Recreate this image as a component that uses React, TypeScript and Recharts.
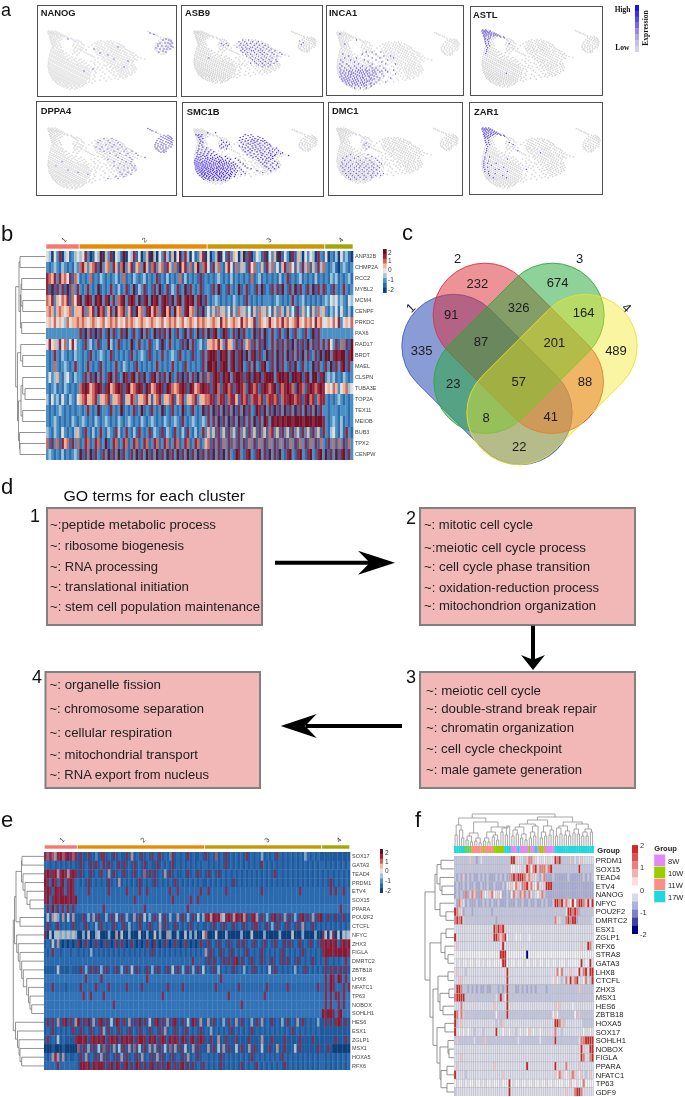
import React from 'react';
import { ScatterChart, Scatter, XAxis, YAxis, ReferenceLine, ReferenceArea, BarChart, Bar } from 'recharts';

// ---------- panel a: UMAP embedding, rows of [y, xs] ----------
const umapBase: [number, number[]][] = [
  [0,[1,4,7]],[1,[0,2.5,5,9]],[2,[2,3.5,6,8,11]],[3,[0.5,4,7,10,13]],[4,[2,5,8.5,12,15]],[5,[3,6.5,10,14,17]],[6,[1.5,4.5,9,12.5,16,19]],[7,[3,7,11,20,23]],[8,[2.5,5.5,9,14,24]],[9,[4,7.5,12,26,29]],
  [10,[3,6,10,27,31,53,59,63]],[11,[5,8,28,33,50,56,61,66]],[12,[3.5,7,11,30,47,52,58,64,69]],[13,[5,9,26,34,49,54,60,65,71]],[14,[4,7,12,29,36,44,51,57,62,67,73]],[15,[6,10,25,31,48,53,59,64,69,75]],
  [16,[5,8,13,28,33,41,50,55,61,66,72,76]],[17,[4,9,27,35,46,52,57,63,68,74]],[18,[6,11,30,32,49,54,60,65,70,77]],[19,[3,8,13,26,34,38,47,51,56,62,67,72,79]],[20,[5,10,15,29,33,50,55,59,64,69,75,81]],
  [21,[3,7,12,27,36,48,53,58,63,66,71,77,83]],[22,[5,9,14,18,31,38,52,56,61,68,73,79,85]],[23,[2,7,11,16,25,40,49,54,59,65,70,76,82]],[24,[4,9,13,21,29,42,51,57,62,67,72,78,84,88]],[25,[2,6,11,15,19,44,53,58,64,69,74,80,86]],
  [26,[4,8,13,17,24,46,55,60,66,71,76,82,90]],[27,[1,6,10,15,22,28,50,56,62,68,73,79,85,93]],[28,[3,8,12,17,20,26,33,54,59,64,70,75,81,87,97]],[29,[1,5,10,14,19,24,31,47,57,61,66,72,77,83,89]],[30,[3,7,12,16,21,27,36,43,56,63,68,74,79,85]],
  [31,[0.5,5,9,14,18,23,29,34,50,59,65,70,76,81]],[32,[2,7,11,16,20,25,32,38,46,62,67,73,78,84]],[33,[0.5,4,9,13,18,22,27,30,36,52,60,64,70,75,80]],[34,[2,6,11,15,20,24,29,33,41,47,56,66,72,77,83,86]],[35,[0,4,8,13,17,22,26,31,35,39,58,63,69,74,79,84]],
  [36,[2,6,10,15,19,24,28,33,37,43,50,62,67,71,76,81,87]],[37,[0.5,4,8,12,17,21,26,30,35,39,46,54,65,70,74,79,85]],[38,[2,6,10,14,19,23,28,32,37,41,49,59,68,73,77,83,88]],[39,[1,4,8,12,16,21,25,30,34,39,44,52,64,71,75,80,86]],[40,[3,6,10,14,18,23,27,32,36,41,47,61,69,73,78,84]],
  [41,[1,5,8,12,16,20,25,29,34,38,43,55,66,71,76,81,87]],[42,[3,7,10,14,18,22,27,31,36,40,48,63,73,79,84]],[43,[2,5,9,12,16,20,24,29,33,38,42,57,70,75,81]],[44,[4,7,11,14,18,22,26,31,35,40,46,65,72,77,83]],[45,[3,6,9,13,16,20,24,28,33,37,42,53,68,74,79]],
  [46,[5,8,11,15,18,22,26,30,35,39,47,61,72,78]],[47,[4,7,10,13,17,20,24,28,32,37,41,56,67,75]],[48,[6,9,12,15,19,22,26,30,34,39,45,63,70]],[49,[5,8,11,14,17,21,24,28,32,36,42,52]],[50,[7,10,13,16,19,23,26,30,34,38,47,58]],
  [51,[8,12,15,18,21,25,28,32,36,41]],[52,[9,12,16,20,23,27,30,34,38,44]],[53,[10,14,18,21,25,29,32,36]],[54,[12,16,19,23,27,31,35]],[55,[14,18,22,26,30,34]],[56,[16,20,24,28,32]],[57,[19,24,29]],[58,[22,27]],
  [0.5,[100]],[1.5,[102]],[2.5,[104]],[3,[105.5]],[4,[108]],[5,[110]],[6,[112.5]],
  [7,[116,120]],[8,[113,118,122]],[9,[115,120,123]],[10,[111,117,121,124]],[11,[113,119,123]],[12,[109,115,121,125]],[13,[112,118,123]],[14,[108,114,120,124]],[15,[110,116,122]],[16,[107,113,118,124]],[17,[110,115,121]],[18,[107,112,118,123]],[19,[109,115,120]],[20,[108,113,118]],[21,[110,116]],[22,[111,115,118]],[23,[113,116]],
];
const hiNANOG: [number, number[]][] = [[2,[102]],[3.5,[106]],[8,[118,20]],[9,[115,121]],[10,[123]],[12,[112,117,120,124]],[13,[122,110]],[15,[110,114,118,123]],[16,[120,125,70]],[17,[108]],[18,[46,112,116,119,122]],[20,[115]],[21,[111,118]],[22,[52]],[24,[60]],[28,[66]],[30,[80]],[36,[76]],[38,[45]],[40,[36]]];
const hiASB9: [number, number[]][] = [[10,[50,56]],[11,[108]],[12,[46,52,60,66]],[13,[112]],[14,[28,33,48,54,58,64,70]],[15,[110]],[16,[30,35,47,51,55,62,67,73]],[18,[44,49,53,58,60,65,71,76]],[20,[50,54,57,63,68,74,79]],[22,[48,52,59,61,66,70,77,83]],[24,[50,55,62,68,72,80,88]],[26,[53,58,64,70,75,82,90]],[28,[54,60,66,72,78,85]],[30,[15,58,63,69,74,80]],[32,[60,66,71,77,84]],[34,[62,68,73,79,85]],[36,[58,64,70,76,82]],[38,[66,72,78]],[40,[70,76]]];
const hiINCA1: [number, number[]][] = [[2,[3]],[8,[20]],[12,[8]],[20,[30,36,45]],[22,[6,26,40]],[24,[12,32,48,55]],[26,[8,20,36,44,58]],[28,[4,14,28,40,52]],[30,[6,18,32,46]],[32,[3,10,22,36,50,60]],[34,[5,12,18,26,34,44]],[36,[3,8,14,20,24,30,36,40,48]],[38,[4,10,16,22,26,29,33,38,42,50,58]],[39,[7,13,19,24,31,36,46]],[40,[3,12,15,21,27,30,39,44,52]],[41,[6,9,17,23,25,33,37]],[42,[4,12,15,19,28,31,40,46,60]],[43,[8,14,21,26,34,36]],[44,[5,11,17,23,29,32,38,48]],[45,[3,9,14,20,26,33,41]],[46,[7,12,18,24,27,35,44,55]],[47,[5,10,16,21,30,34,38]],[48,[8,13,19,25,28,36,43]],[49,[6,11,17,22,31,33]],[50,[9,15,20,26,30,40,50]],[51,[12,18,24,28,35]],[52,[10,16,21,27,34,38]],[53,[13,19,25,30]],[54,[15,22,28,35]],[56,[18,24,30]]];
const hiASTL: [number, number[]][] = [[0,[1,4]],[1,[0,2.5,5,9]],[2,[2,3.5,6,8]],[3,[0.5,4,7,10,13]],[4,[2,5,8.5,12,15]],[5,[3,6.5,10,14,17]],[6,[1.5,4.5,9,12.5,16,19]],[7,[3,7,20,23]],[8,[2.5,9,24]],[9,[4,7.5]],[10,[3,6]],[12,[3.5,7]],[14,[4,7,29]],[16,[5,8]],[18,[6]],[20,[5]],[22,[5]],[24,[4]],[44,[26]]];
const hiDPPA4: [number, number[]][] = [[0.5,[100]],[1.5,[102]],[2.5,[104]],[4,[108]],[7,[116,120]],[8,[113,118,122]],[9,[115,120,123]],[10,[56,64,111,117,121,124]],[11,[113,119,123]],[12,[52,60,68,109,115,121,125]],[13,[112,118,123]],[14,[50,62,70,108,114,120,124]],[15,[110,116,122]],[16,[58,66,72,107,113,118,124]],[17,[110,115,121]],[18,[48,54,64,74,107,112,118,123]],[19,[109,115,120]],[20,[52,60,70,78,108,113,118]],[21,[110,116]],[22,[56,66,76,84,111,115,118]],[23,[113,116]],[24,[62,72,80,88]],[26,[68,78,90]],[28,[70,82,97]],[30,[60,74,84]],[32,[14,66,78,83]],[34,[72,82]],[36,[8,66,76,84,87]],[38,[70,80,86]],[40,[20,76,84,88]],[42,[30,72,80]],[44,[40,74,78,83]],[46,[68,76]],[48,[60,70]]];
const hiSMC1B: [number, number[]][] = [[4,[14,22]],[6,[2,5,8,52,58]],[7,[4,55]],[8,[7,50,60,65]],[9,[5,47,57,67]],[10,[9,53,62,70]],[11,[6,49,59,65]],[12,[28,46,55,61,68,72]],[13,[7,52,58,64,70]],[14,[9,30,33,48,62,74]],[15,[6,55,60,67,72]],[16,[28,36,50,57,65,77]],[17,[8,32,53,62,70,75]],[18,[5,26,34,46,59,67,78]],[19,[9,30,49,55,63,72]],[20,[13,28,52,60,68,76,84]],[21,[5,33,57,65,74,80]],[22,[8,12,17,50,62,70,82]],[23,[4,55,59,67,77,86]],[24,[11,15,20,52,64,72,80]],[25,[3,7,57,68,76,84,90]],[26,[10,14,18,61,70,78,88]],[27,[4,6,23,54,65,74,83]],[28,[9,13,17,21,58,69,78,82,96]],[29,[3,7,11,26,32,63,72,80]],[30,[5,14,19,24,28,60,68,76]],[31,[2,9,12,17,22,34,42,65,74,80]],[32,[4,7,14,19,25,29,37,70,78]],[33,[1,6,11,16,21,27,32,45,66,73]],[34,[3,9,13,18,23,26,30,36,76,82]],[35,[1,5,8,11,15,20,25,28,33,40,47,68,72]],[36,[3,7,13,17,22,26,31,35,38,74,80,85]],[37,[1,5,9,12,16,20,24,29,33,42,50,70]],[38,[3,7,10,14,18,22,27,31,36,40,78,84]],[39,[2,5,9,12,16,20,25,29,34,38,44,52,72]],[40,[4,8,11,14,18,23,26,30,35,41,74,80,86]],[41,[2,6,10,13,17,21,24,28,32,37,46,54]],[42,[4,8,12,15,19,23,27,30,34,39,42,58,76,82]],[43,[2,6,9,13,17,20,25,29,33,37,48]],[44,[5,8,11,15,19,23,26,31,35,41,44,64,78]],[45,[3,7,10,14,17,21,24,28,32,38,50]],[46,[6,9,12,16,20,23,27,30,34,39,43,70]],[47,[4,8,11,14,18,22,26,29,33,37,52]],[48,[8,11,15,19,23,26,30,35,38,42,48]],[49,[6,10,13,17,21,24,28,32,36]],[50,[9,13,16,20,25,28,31,37,41]],[51,[8,11,15,19,22,26,30,34]],[52,[12,15,18,23,27,33,36]],[53,[10,14,20,25,30]],[54,[16,20,24,28,32]]];
const hiDMC1: [number, number[]][] = [[16,[30]],[18,[28]],[20,[33]],[22,[30]],[28,[14,32]],[30,[10,22,36]],[32,[6,18,30,40]],[34,[8,14,24,34,42]],[36,[5,12,20,28,36,44]],[38,[6,10,16,22,26,32,38,46]],[40,[4,9,14,20,24,30,36,42]],[42,[6,12,18,23,28,33,38,44]],[44,[8,14,20,26,31,36,41]],[46,[6,12,17,23,28,33,38,44]],[48,[9,14,20,26,32,37,42,48]],[50,[10,16,22,28,35,40,45]],[52,[12,18,24,30,36]],[54,[14,20,28]]];
const hiZAR1: [number, number[]][] = [[0,[1,4,7]],[1,[0,2.5,5,9]],[2,[2,3.5,6,8,11]],[3,[0.5,4,7,10,13]],[4,[2,5,8.5,12,15]],[5,[3,6.5,10,14,17]],[6,[1.5,4.5,9,12.5,16,19]],[7,[3,7,11,20,23]],[8,[2.5,5.5,9,24]],[9,[4,7.5]],[10,[3,6]],[12,[3.5,7]],[14,[4,7,29]],[16,[5,8,33]],[18,[6]],[20,[5]],[22,[5,38]],[24,[4,62]],[28,[3,8]],[30,[3,27]],[32,[2,7]],[34,[2,6,15]],[36,[2,10]],[38,[2,6,23]],[40,[3,14,18,47]],[42,[3,7,27]],[44,[7,14]],[46,[8,22]],[48,[12,26]]];

const umapGenes = ['NANOG','ASB9','INCA1','ASTL','DPPA4','SMC1B','DMC1','ZAR1'];
const umapHigh = [hiNANOG,hiASB9,hiINCA1,hiASTL,hiDPPA4,hiSMC1B,hiDMC1,hiZAR1];
const umapBoxes = [[37,5,140,92],[181,5,142,92],[326,5,138,91],[470,6,133,90],[36,101,141,95],[182,102,142,95],[328,102,135,94],[469,102,134,93]];
const umapExtents = [[48,31,125,58],[194,31,122,52],[337,32,122,58],[482,30,117,57],[48,128,125,61],[194,129,123,55],[337,128,121,55],[482,128,118,60]];
const umapColors = ['#6f58e6','#7a66ea','#6a50ea','#7058e8','#8574ec','#4f30f2','#7a66ea','#6a50ea'];
const expressionStops = ['#1a10f0','#3a2cf0','#5a48ee','#7a66ea','#9a88e6','#b5a8e2','#c8c2de','#d4d2dc'];

// ---------- panels b, e: heatmap rows (cluster 1 | 2 | 3 | 4, digits are colour levels) ----------
const clusterSizes = [13, 50, 46, 11];
const clusterColors = ['#f8766d', '#e88a00', '#c99800', '#a3a500'];
const genesB = ['ANP32B','CHMP2A','RCC2','MYBL2','MCM4','CENPF','PRKDC','PAX6','RAD17','BRDT','MAEL','CLSPN','TUBA3E','TOP2A','TEX11','MEIOB','BUB3','TPX2','CENPW'];
const heatB = [
 '4304270341234 3472014380 5270431804 3714025083 0427315048 2730412570 4023804172 5403817024 3170425081 4207153042 430721 40213042310',
 '2123213212132 6752567182 5627516825 7156285167 2561752618 5726158267 4173621574 1625317462 2517362415 7264152736 152736 21231023212',
 '7657275647163 1212612132 1212312612 1321231212 7121312126 1312121712 1212321213 1212121612 3121212131 2712123121 213121 21323121231',
 '7181727181627 2127212812 1272131271 2813271217 2812713271 2817212712 2172812172 1281271217 2812172718 2172817217 281727 12172127212',
 '6572546571647 8278728782 7827267827 8728178287 8278718278 2787827817 2123212121 3212172121 2122212321 2127212312 121212 32434232143',
 '5652565456255 5726572867 2572856725 7185627857 6278572856 2785627182 4252635241 5263524152 6352415263 1524172524 152635 21324142131',
 '4546454364556 5654565456 4565645465 6545654565 4564565645 6456546565 4565475645 6547564572 6545754657 5645675465 647564 45464724546',
 '2222222222222 7182718172 1827127182 1721827128 1717282172 1827128172 8178218712 7181721281 7281272172 1821722172 181722 22222222222',
 '4745374624742 2172312712 2831271212 8127212712 3181272121 7182712312 5565752755 2717256172 7181272717 2718271718 271727 27427162718',
 '2127213212132 2121721232 1271212121 7212321712 1272123217 2121712172 7887187827 8178182781 7128172817 2817271827 127181 88278788178',
 '2126212321272 2127212172 1212721321 2172121212 7212127212 1721212172 8878178827 8178217282 1782172817 2171821721 281721 72817278172',
 '2423521342132 2172718272 1782712871 7827182178 2717281271 8172718271 6178718782 7887178187 8178882788 7818878178 288178 23231213212',
 '2123121321212 6787567871 7856787178 5678718756 7871876567 8718756787 7178617867 1787618767 1787678176 7876187617 876787 45465245634',
 '3142314213214 5675567255 6725567155 7625567515 6725567156 7255672556 6771677167 7517671677 6716776716 7787677178 671677 21212321212',
 '2121232121212 2127212812 2172128121 2712812172 1281217212 8121721281 7281728172 8172817218 7182718172 8172817281 728172 21222122212',
 '2123212121321 2321213212 3212132123 2121321232 1213212321 7212321232 7272817281 7281727281 7287287878 7887888788 878887 21232131212',
 '3213214212135 2172131272 1321731272 1317212713 2171321721 3172131272 5251725172 5172517251 7251672517 2517251725 172517 21342131721',
 '6172617561726 1276127612 8127612761 2761276127 6127612761 2761276125 6172716271 6172716271 6271627162 7162716271 627162 17261627162',
 '2321213121232 8172817217 2817281721 7281728172 8172817281 7281728172 7182718272 1872178217 8271827182 1782178217 821782 81728178172',
];
const genesE = ['SOX17','GATA3','TEAD4','PRDM1','ETV4','SOX15','PPARA','POU2F2','CTCFL','NFYC','ZHX3','FIGLA','DMRTC2','ZBTB18','LHX8','NFATC1','TP63','NOBOX','SOHLH1','HES6','ESX1','ZGLP1','MSX1','HOXA5','RFX6'];
const heatE = [
 '7676578678767 a7aa7aa2a7 7a1a7a1aa7 a5a1a7a1a7 1a7a1a27a1 a1a7a1aa1a 7a1a6a1a7a 1a1a1a7a1a 1a3a1a1a71 a1a1a1a1a3 1a1a1a aaaaaaaaaaa',
 '11a1a1a1a1a1a a7a1a7a7a1 7a7a1a7a7a 1a7a1a7a1a a7a1a1a7a1 a1a1a1a1a1 1a1a1a1a7a 1a1a1a1a1a 1a71a1a1a1 a1a1a1a1a1 a1a1a1 1a1a1a1a1a1',
 '7877857875787 a7a1a7a1a7 1a5a7a1a7a 1a7a1a6a7a 7a1a5a7a1a a1a7a1a7a1 a7a1a7a1a1 a1a1a1a1a1 a1a1a1a7a1 a1a1a1a1a1 a1a1a1 a1a1a1a1a1a',
 '8718717817871 1a1a7a1a1a 1a7a1a5a1a 1a1a7a1a1a 7a1a1a1a7a 1a1a1a1a1a a1a1a1a1a1 a7a1a1a1a1 a1a1a1a1a1 a1a1a1a1a1 a1a1a1 a1a7a1a1a1a',
 '7871878717871 1111711111 1171111117 1111711711 1111117117 1111111171 1711111171 1111111111 1171111111 1111111711 111111 11171711711',
 '7817878887878 1111111111 1111111111 1171111111 1111111711 1111711711 1111111111 1111111111 1111111111 1111111111 111111 11111111111',
 '1718171717171 bbbbbbbbbb 7bbbbbbbbb bbbbbb7bbb bbbbbbbbbb bbb7bbbbbb bbbbbbbbbb bbbbbbbbbb bbbbbbbbbb bbbbbbbbbb bbbbbb bbbbbbb7bbb',
 'a4a543a5a4a5a aa7a3a5a7a a3a7a4a7a3 aa5a7a4a3a 7a4a7a3aa5 a7a3a7a4a3 7858785478 7587857a78 5a7a3a78a7 a5a7a3a78a 7a5a78 aa7aa7aa7aa',
 'a7a1a7a1a1a7a a1a7a1a3a7 1a1a7a1a7a 3a1a7a1a7a 1a5a7a1a7a 1a1a7a1a1a a1a7a1a7a1 a7a1a7a1a7 7a1a7a3a7a 1a7a1a7a5a 1a7a1a 1a1a1a1a1a1',
 '7040443434343 0030400340 0030050400 3000400300 4030053003 0040303004 6000400030 0000300040 0003000003 0000400030 000300 74047040434',
 'a1a4a5a0a0a0a 70a7a0a7a0 a7a0a7a7a0 a7a0a0a7a0 7a0a7a0a7a 0a7a0a0a7a a7a1a7a1a7 a1a7a7a1a7 a1a7a1a7a1 a7a7a1a7a1 a7a1a7 78787817878',
 '1a1711a111a11 a1a1a3a1a1 a1a1a1a1a1 a1a1a1a1a7 a1a1a1a1a1 a1a1a1a1a1 5a7a1a7a1a 7a1a1a7a1a 1a7a1a1a1a 7a1a1a1a7a 1a1a1a 78887888887',
 '1111111111111 1111111111 1111111111 1111111111 1111111111 1111171111 a7a7a1a7a7 a78a7a1a7a 1a7a1a7a1a 7a7a1a7a1a 1a7a1a 17a1a1a1171',
 'aaaaa4aaaa1aa a7a3a7a7a3 a7a1a7a3a7 a4a7a1a7a3 a7a1a7a4a7 a3a7a3a7a4 a1a7a3a1a1 a7a1a3a1a7 a1a1a4a7a1 a1a1a3a1a7 a1a1a1 a7a7a7a7a7a',
 'bbbbbbbbbbbbb bbb7bbbbb7 bbbbbbbbbb bbbbbbb7bb bbbbbbbbbb bbbbbbbbbb bbbbbb7bbb bbbbbbbbbb bbbbbbbbbb bbbbbbbbbb bbbbbb b7b87b87b7b',
 '11171111a1111 1711111711 1171111117 1111171111 1111171111 1711111111 1111711111 1117111111 1111711111 1171111111 111171 17187111717',
 'bbbbbbbbbbbbb bb7bb7bbbb 7bbbbbbbbb bbbbbbbbbb bbb7bbbbbb bbbbbbbbbb bbbbbbbbb7 bbbbbbbbbb bbb7bbbbbb bbbbbbbbbb bbbbbb b7b7b77b7bb',
 'bbbbbbbbbbbbb bbbbbbbbbb bbbb7bbbbb bbbbbbbbbb bbbbbbbbbb bbbbbbbbbb bbbbbbbbbb bbbb7bbbbb bbbbbbbbbb bbbbbbbbbb bbbbbb b7b7bb7b7bb',
 'bbbbbbbbbbbbb bbbbbbbbbb bbbbbbbbbb bbbbbbbbbb bbbbbbbbbb bbbbbbbbbb bbbbbbbbbb bbbbbbbbbb bbbbbbbbbb bbbbbbbbbb bbbbbb 87887b78bbb',
 'a7a7a5a78a7a5 8a7a8a5a78 a7a4a87a7a 5a7a8a7a4a 78a7a5a78a a7a4a87a5a a5a7a1a3a7 1a5a7a1a3a 7a5a1a7a1a 3a7a1a5a7a 1a1a3a a7a7a787a7a',
 'a1a7a1a1a1a7a a7a1a7a1a7 3a7a1a7a1a 7a1a7a1a7a 1a7a5a1a7a 1a7a1a1a7a 1a3a1a1a1a 7a1a1a1a7a 1a1a1a1a1a 1a1a7a1a1a 1a1a1a aaaaaaaaaaa',
 'a7a1a4a1aaaa7 8878a78787 8a7878a878 78a7887a87 8a787a8787 a87a78a787 aa7aa5aa7a aa7aaaa7aa aa5aaa7aaa a7aaaaa7aa aa7aaa aaaaa7aaa7a',
 '000a000a00000 6a7a5a7a4a 6a7a5a4a7a 5a6a4a7a5a 5a7a4a6a5a 7a4aa5a7aa a5a7a4a5a7 aa4a7aa5a7 aa4aa7aa5a a7aaa4a7aa aaaa7a aa7a0000000',
 '1a1575a5a1aa1 a7a5a1a7a5 a7a1a7a5a7 a1a7a5a1a7 a5a7a1a7a1 a7a5a1a7a1 1a1a1a7a1a 1a1a1a1a7a 1a1a1a1a1a 71a1a1a1a1 a1a1a1 1a1a1a1a1a1',
 '1111171111111 a8878a8788 7a78a87a78 a7a87a7a78 a7a7a87a7a 78a7a7a1a7 1a1a1a7a1a 1a1a7a1a1a 71a1a1a1a1 a7a1a1a1a1 a1a1a1 1a1a1a1a1a1',
];
const barPalette: Record<string, string> = {
  '0':'#0f3f7a','1':'#2a69ad','2':'#4a94c8','3':'#9cc7e0','4':'#e8e4e0','5':'#f6b79a','6':'#d9604f','7':'#a81c2e','8':'#6b0a22',
};
const heatBPalette: Record<string, string> = {
  '0':'#173f78','1':'#2f6cab','2':'#4b90c4','3':'#9cc3da','4':'#e2dfdc','5':'#efb39a','6':'#cf6a5c','7':'#93263f','8':'#701229',
};
const heatEPalette: Record<string, string> = {
  '0':'#0f3f7a','1':'#2a69ad','2':'#4a88bc','3':'#7fa6c6','4':'#b4bcc8','5':'#b08f98','6':'#a5586a','7':'#7c2f55','8':'#8a1832',
  a:'#1f5a9c', b:'#3173b6',
};

// ---------- panel f ----------
const genesF = ['PRDM1','SOX15','TEAD4','ETV4','NANOG','NFYC','POU2F2','DMRTC2','ESX1','ZGLP1','RFX6','STRA8','GATA3','LHX8','CTCFL','ZHX3','MSX1','HES6','ZBTB18','HOXA5','SOX17','SOHLH1','NOBOX','FIGLA','PPARA','NFATC1','TP63','GDF9'];
const heatF = [
 'lllllllpll vlwlllllll llllllrrpw wwlpmmpwxw wxwwwwrmrl lllplwlwpw wwww',
 'llllllllll llllllllll llllllxxwx wpwrmxmrpm mmpmrlllll lllllllrll llll',
 'lvlvpvlvlv vlvlvlvvvl vlvlvvmrmr rrmpmppwlv pmvvvlvvvv vvlvvvvvvl vlvl',
 'vlvvlvlvvl vvlvvlvvlv vvlvwwpxmp wmmrpmwxmw wprrrvvvvv vvvvvvvvvv vvvv',
 'vlvlvmvpmp vvmpxwpmxw pxvvlvxmpl mpmlmwlwxp mlvvvvvvvv vvvvvvvvvv vvvv',
 'wvmpwvlvvv lvvlvlvlvv lvvvlvvvlv vlvvlvvlvv lvlvvlrrmr pmpxrxmrrm prwr',
 'rmpwvlllvl lllllllvll llllllllll llllllllll llllllllll lwrrmrmvll llll',
 'mrmrplllll lllllllllv llllllllll llllllllll llllllmpwl lmrmrrvlll lllw',
 'wwwwwwwwww wwwwwwwwrm rmrpwwwwww wwwwwwwwww wwwwwwwwww wwwwwwwwww wwww',
 'rwwwwwwwww wwwwwwwwrr mpmrxwwwxw xwwwxwwwww wwwwwwwwww wwwwwwwwww wwww',
 'wpwwwwwwww wwwwwwwwww wwrwwwwwww wwwwwwwwww wwwwwwwwww wwwwwwwwpw wrmw',
 'xxxxxxxxxx xxxxxxxxxx xrrrxxxxxx xxxnxxxxxx xxxxxxxxxx xxxxxxxxxx xxxx',
 'xwxwxxwxxw xxwxwxxwxx xxrrxwxxwx xxwxxwxxwx xwxxwxxwxx xwxxxxxxrw xxrw',
 'wpwwwlwwww wwwwwwwwww wwwwrwwwww wwwwwwwwww wwwwwwwmxm wwwpwwxrwm rwrr',
 'wwppwwwwww wwwwwwwwww wwwwrwwwww wwwwwwwwww wwwwwxpxwl wmwrpmrwwx mwlr',
 'lrrmllvlvl vlvvlvvlll vlvlrlllvv lvlvlvlvll llvlllllll lllllllpll llll',
 'mrrrrlllll lllllllllw lrlxrlllll llllllllll llllllllll llllllllll llll',
 'wwwmwwwwww wwwwwwwwpw wwwwrwwwww wwwwwwwwww wwwwwwpwpw wwwwxwwwww wwww',
 'rmwmplllll lllllllllx llllrlllll llllllllll lllllxpxll lllllxlpll llll',
 'rlwpwwwwww wwwwwwwwwl wlpwwwwwww wwwwwwwwww wwwwwwrrmp lwwwwwwwwl llll',
 'rwxwxwxwwl wwwlwwwwwr wwxwwxwwlw xwwxpwxwwx wwwwwwmwwl wwwwwwwwwx wwxw',
 'lplllllllw llllplllll lllllllllw lllllllllw llllllrlll lllllllwmm rrrr',
 'wwwwwwwwww wwwwwwwwww wwwwwwwwww wwwwwwwwww wwwwwwwwww wwwwwwwwrp wwrr',
 'wwwpwwwwww wwwwwwwwww wwwwwwwwww wwwwwwwwww wwwwwwwwww wwwwwwwwrm wwmr',
 'wpwwwwwwww wwwwwwwwpw wwwwwwwwww wwwrwwwwww wwwwwwrwww wmwwwwwpww wwww',
 'rwwwwlwwww wwwwwwwwww wwpwwwwwww wwwwwwwwww wwwwwwpxmp wxwpmpwxpw lwpw',
 'xwxxwxwxxw xxwxwxxwxx xwxxxrxwxx wxxwxxwxxw xxwxxwxxxx wxxpxxwxxm xxxx',
 'lwwwwwwwww wwwwwwwwww wwwwwrwwww wwwwwwwwww wwwwwwwwww wpwwwmrrmw wwww',
];
const fPalette: Record<string, string> = { n:'#000080', v:'#a4a8d4', l:'#c3c6e3', w:'#dddeee', x:'#f1f1f7', p:'#f5c6c6', m:'#e67a7a', r:'#cc2525' };
const groupRow = ['cccccgcgss sssgssssgg gggcccpppc ppppgppcpg gsppppcccc cccccccccc cccc'];
const groupPalette: Record<string, string> = { p:'#e08af5', g:'#9acd00', s:'#fb8f85', c:'#20d8dc' };
const groupNames = ['8W','10W','11W','17W'];
const groupKeys = ['p','g','s','c'];
const fBarRows = ['a','b','c','d','e','f','g','h','i','j','k'];
const fBarPalette: Record<string, string> = { a:'#d62728', b:'#e05050', c:'#ea8080', d:'#f3b0b0', e:'#fadddd', f:'#ffffff', g:'#d8d8ee', h:'#b0b0dd', i:'#8080c4', j:'#4040a4', k:'#000080' };

// ---------- dendrograms: [merge height, child, child]; a number is a leaf ----------
type Tree = number | [number, Tree, Tree];
const treeB: Tree = [15.7,[19,[20,0,1],[20.5,[21,[21.7,2,3],[22.7,4,5]],[21.7,6,7]]],[17.5,[20.7,8,[22.7,9,10]],[18.5,[21,[22.7,11,[25,12,13]],[22.7,14,15]],[19.5,16,[20,17,18]]]]];
const treeE: Tree = [13.3,[14.5,[16,[21.5,[22,0,1],[23,2,[25,3,[27,4,[30,5,6]]]]],[20,7,8]],[16.7,9,[18.3,10,[20,11,[21.7,12,[23.3,13,[26.7,14,[28.5,15,[30,16,[31.7,17,18]]]]]]]]]],[15.5,19,[17.5,20,[19,21,[20,22,[21.7,23,24]]]]]];
const treeFLeft: Tree = [425,[435,[437,[441,0,1],[440,2,[442,3,4]]],[440,5,[446,6,7]]],[430,[441,[446,8,9],[445,10,[448,11,12]]],[433,[438,[448,13,14],[440,[449,15,16],[443,17,18]]],[437,[445,19,20],[440,[448,21,[449,22,23]],[441,[447,24,25],[447,26,27]]]]]]];
const treeFTop: Tree = [814,
  [818,[825,[835,0,1],[830,2,[838,3,4]]],
    [822,[833,[836,[840,5,6],[842,7,8]],[838,[841,9,10],[843,11,12]]],
      [827,[832,[838,[841,13,14],[842,15,16]],[835,[837,17,18],[840,19,20]]],[828,[832,21,22],[826,[835,23,24],25]]]]],
  [817,[820,[824,[827,[830,[836,26,27],[834,28,29]],[834,[838,30,31],[840,32,33]]],[826,[832,[838,34,35],[836,36,37]],38]],
      [826,[832,[838,39,40],[836,41,42]],[830,[835,43,44],45]]],
    [822,[826,[828,[836,46,47],[834,48,49]],[831,[835,50,51],[836,52,53]]],
      [824,[829,[833,54,55],[834,56,57]],[829,[832,[836,58,59],[836,60,61]],[832,62,63]]]]]];

// ---------- panel c: Venn ----------
const vennSetNames = ['1','2','3','4'];
const vennCenters = [[487,379.5,45],[518.3,348.3,45],[519,348.3,-45],[552,379.5,-45]];
const vennColors = [['#2f4fb5','#3c5ac0',0.56],['#dc2f3a','#d8323e',0.52],['#26a83c','#2aa83e',0.52],['#f0e81e','#e8e030',0.42]];
const vennCounts = [335,232,674,91,326,164,87,201,489,23,57,88,8,41,22];
const vennCountPos = [[421.7,350.7],[477.3,283.7],[557.7,282.3],[451.3,314],[518.7,307],[583.7,312],[481,341.7],[554.3,342.7],[616,350],[453.3,383.3],[518.7,381.7],[585,381],[486,417],[550.7,416.7],[519.3,446.7]];
const vennLabelPos = [[410.7,307.7,-45],[457.7,258.3,0],[579.7,258.3,0],[626.7,307.7,45]];

// ---------- panel d: GO terms ----------
const go1 = ['~:peptide metabolic process','~: ribosome biogenesis','~: RNA processing','~: translational initiation','~: stem cell population maintenance'];
const go2 = ['~: mitotic cell cycle','~:meiotic cell cycle process','~: cell cycle phase transition','~: oxidation-reduction process','~: mitochondrion organization'];
const go3 = ['~: meiotic cell cycle','~: double-strand break repair','~: chromatin organization','~: cell cycle checkpoint','~: male gamete generation'];
const go4 = ['~: organelle fission','~: chromosome separation','~: cellular respiration','~: mitochondrial transport','~: RNA export from nucleus'];
const goLayout: [string[], number, number[], number[]][] = [
  [go1, 50, [524.3,545,566.7,586.7,606.7], [216,184,158,189,260]],
  [go2, 424, [524,547,566.7,587.7,605.7], [533,586,590,599,596]],
  [go3, 426, [690,708.7,727.7,748.7,769], [541,597,574,562,582]],
  [go4, 49.5, [684.7,708.7,732.3,754,774.7], [161,204,172,198,209]],
];
const goBoxes = [[47,508,262,625],[420,508,635,625],[420,672,635,788],[45.5,672,260,788]];
const goNumbers = [['1',35,516],['2',411,518],['3',411,677],['4',37,677]];
const arrowShafts = [[275,562.7,370,562.7],[533,625.7,533,660],[402,726,306,726]];
const arrowHeads = [[395,562.7,0,37,12],[533,670,90,15,12],[280.7,726,180,36,12]];

const SANS = '"Liberation Sans", Arial, sans-serif';
const SERIF = '"Liberation Serif", serif';

function rowsToPoints(rows: [number, number[]][]) {
  return rows.flatMap(([y, xs]) => xs.map((x) => ({ x, y })));
}

function Dot({ cx, cy, r, fill }: any) {
  return <circle cx={cx} cy={cy} r={r} fill={fill} />;
}

function UmapPanel({ index }: { index: number }) {
  const [bl, bt, bw, bh] = umapBoxes[index];
  const [el, et, ew, eh] = umapExtents[index];
  const pad = 2;
  return (
    <>
      <div style={{ position: 'absolute', left: bl, top: bt, width: bw, height: bh, boxSizing: 'border-box', border: '1.4px solid #505050' }} />
      <div style={{ position: 'absolute', left: el - pad, top: et - pad }}>
        <ScatterChart width={ew + pad * 2} height={eh + pad * 2} margin={{ top: pad, right: pad, bottom: pad, left: pad }}>
          <XAxis type="number" dataKey="x" domain={[0, 125]} hide />
          <YAxis type="number" dataKey="y" domain={[0, 58]} reversed hide />
          <Scatter data={rowsToPoints(umapBase)} isAnimationActive={false} shape={(p: any) => <Dot {...p} r={0.85} fill="#d6d6d6" />} />
          <Scatter data={rowsToPoints(umapHigh[index])} isAnimationActive={false} shape={(p: any) => <Dot {...p} r={0.72} fill={umapColors[index]} />} />
        </ScatterChart>
      </div>
    </>
  );
}

function Heat({ left, top, width, height, rows, nCols, palette, labels, labelWidth = 0, fontSize = 5.5, labelColor = '#444', cellStroke, vLines, soft, tickMargin = 2 }: any) {
  const cleaned: string[] = rows.map((s: string) => s.replace(/\s/g, ''));
  const nRows = cleaned.length;
  const data = cleaned.flatMap((s, r) => Array.from(s).map((code, c) => ({ c, r, code })));
  const cw = width / nCols;
  const ch = height / nRows;
  return (
    <div className={soft} style={{ position: 'absolute', left, top }}>
      <ScatterChart width={width + labelWidth} height={height} margin={{ top: 0, right: 0, bottom: 0, left: 0 }}>
        <XAxis type="number" dataKey="c" domain={[-0.5, nCols - 0.5]} hide />
        <YAxis
          type="number" dataKey="r" domain={[-0.5, nRows - 0.5]} reversed orientation="right"
          width={labelWidth} hide={!labels} ticks={cleaned.map((_, i) => i)} interval={0}
          tickFormatter={(v: number) => (labels ? labels[v] : '')} tickLine={false} axisLine={false}
          tickSize={0} tickMargin={tickMargin} tick={{ fontSize, fill: labelColor, fontFamily: SANS }}
        />
        <Scatter
          data={data} isAnimationActive={false}
          shape={(p: any) => (
            <rect x={p.cx - cw / 2} y={p.cy - ch / 2} width={cw + (cellStroke ? 0 : 0.3)} height={ch + (cellStroke ? 0 : 0.3)}
              fill={palette[p.payload.code]} stroke={cellStroke || 'none'} strokeWidth={cellStroke ? 0.4 : 0} />
          )}
        />
        {(vLines || []).map((v: number) => (
          <ReferenceLine key={v} x={v - 0.5} stroke="#8a8a8a" strokeWidth={0.9} ifOverflow="visible" />
        ))}
      </ScatterChart>
    </div>
  );
}

function treeSegments(node: Tree, leafHeight: number, out: number[][]): { pos: number; h: number } {
  if (typeof node === 'number') return { pos: node, h: leafHeight };
  const [h, a, b] = node;
  const A = treeSegments(a, leafHeight, out);
  const B = treeSegments(b, leafHeight, out);
  out.push([A.pos, A.h, A.pos, h], [B.pos, B.h, B.pos, h], [A.pos, h, B.pos, h]);
  return { pos: (A.pos + B.pos) / 2, h };
}

function Dendro({ left, top, width, height, tree, leafHeight, heightDomain, posDomain, vertical, stroke = '#6e6e6e' }: any) {
  const segs: number[][] = [];
  treeSegments(tree, leafHeight, segs);
  const toPoint = (pos: number, h: number) => (vertical ? { x: pos, y: h } : { x: h, y: pos });
  return (
    <div style={{ position: 'absolute', left, top }}>
      <ScatterChart width={width} height={height} margin={{ top: 0, right: 0, bottom: 0, left: 0 }}>
        <XAxis type="number" dataKey="x" domain={vertical ? posDomain : heightDomain} hide />
        <YAxis type="number" dataKey="y" domain={vertical ? heightDomain : posDomain} reversed hide />
        <Scatter data={[toPoint(posDomain[0], heightDomain[0])]} isAnimationActive={false} shape={() => <g />} />
        {segs.map((s, i) => (
          <ReferenceLine key={i} segment={[toPoint(s[0], s[1]), toPoint(s[2], s[3])]} stroke={stroke} strokeWidth={0.75} ifOverflow="visible" />
        ))}
      </ScatterChart>
    </div>
  );
}

function ClusterBar({ left, top, width, height }: any) {
  const row: any = { name: 'clusters' };
  clusterSizes.forEach((v, i) => { row['c' + i] = v; });
  return (
    <div style={{ position: 'absolute', left, top }}>
      <BarChart width={width} height={height} data={[row]} layout="vertical" barCategoryGap={0} margin={{ top: 0, right: 0, bottom: 0, left: 0 }}>
        <XAxis type="number" domain={[0, 120]} hide />
        <YAxis type="category" dataKey="name" hide />
        {clusterSizes.map((_, i) => (
          <Bar key={i} dataKey={'c' + i} stackId="a" fill={clusterColors[i]} stroke="#fff" strokeWidth={0.6} isAnimationActive={false} />
        ))}
      </BarChart>
    </div>
  );
}

function Venn() {
  const sets = vennSetNames.map((name, i) => ({ name, x: vennCenters[i][0], y: vennCenters[i][1], rot: vennCenters[i][2], fill: vennColors[i][0], stroke: vennColors[i][1], op: vennColors[i][2] }));
  const counts = vennCounts.map((v, i) => ({ v, x: vennCountPos[i][0], y: vennCountPos[i][1] }));
  const labels = vennSetNames.map((v, i) => ({ v, x: vennLabelPos[i][0], y: vennLabelPos[i][1], rot: vennLabelPos[i][2] }));
  const tx = (p: any) => (
    <text x={p.cx} y={p.cy} dy="0.35em" textAnchor="middle" fontSize={13} fontFamily={SANS} fill="#1c1c1c"
      transform={p.payload.rot ? `rotate(${p.payload.rot} ${p.cx} ${p.cy})` : undefined}>{p.payload.v}</text>
  );
  return (
    <div style={{ position: 'absolute', left: 390, top: 215 }}>
      <ScatterChart width={295} height={260} margin={{ top: 0, right: 0, bottom: 0, left: 0 }}>
        <XAxis type="number" dataKey="x" domain={[390, 685]} hide />
        <YAxis type="number" dataKey="y" domain={[215, 475]} reversed hide />
        <Scatter data={sets} isAnimationActive={false} shape={(p: any) => (
          <rect x={p.cx - 99} y={p.cy - 51.8} width={198} height={103.6} rx={51.8} ry={51.8}
            fill={p.payload.fill} fillOpacity={p.payload.op} stroke={p.payload.stroke} strokeWidth={0.8}
            transform={`rotate(${p.payload.rot} ${p.cx} ${p.cy})`} />
        )} />
        <Scatter data={counts} isAnimationActive={false} shape={tx} />
        <Scatter data={labels} isAnimationActive={false} shape={tx} />
      </ScatterChart>
    </div>
  );
}

const T = (t: string, x: number, y: number, fontSize: number, extra: any = {}) => ({ t, x, y, fontSize, ...extra });

function pageTexts() {
  const items: any[] = [
    T('a', 1, 16.3, 18, { baseline: 1 }), T('b', 1, 241, 22, { baseline: 1 }), T('c', 402, 240, 22, { baseline: 1 }),
    T('d', 1, 494, 22, { baseline: 1 }), T('e', 1, 826.5, 22, { baseline: 1 }), T('f', 415, 827, 22, { baseline: 1 }),
    T('GO terms for each cluster', 63.5, 495.7, 14.5, { end: 245 }),
    T('High', 614.7, 9.5, 7.5, { family: SERIF, weight: 700 }), T('Low', 615.3, 47.5, 7.5, { family: SERIF, weight: 700 }),
    T('Expression', 645.7, 28, 7.5, { family: SERIF, weight: 700, anchor: 'middle', rot: -90 }),
    T('Group', 597.3, 850, 7.5, { weight: 700, fill: '#222' }), T('Group', 654.3, 848, 7.5, { weight: 700, fill: '#222' }),
  ];
  const labelPos = [[40.7,12.7],[185,13],[329,13],[473,14.3],[40.7,110.7],[186.7,112],[332,110.7],[474,111.7]];
  umapGenes.forEach((g, i) => items.push(T(g, labelPos[i][0], labelPos[i][1], 9.4, { weight: 700, fill: '#1a1a1a' })));
  goLayout.forEach(([terms, x, ys, ends]) => terms.forEach((term, i) => items.push(T(term, x, ys[i], 13, { end: ends[i], fill: '#222' }))));
  goNumbers.forEach(([n, x, y]: any) => items.push(T(n, x, y, 18, { anchor: 'middle' })));
  [['1',64],['2',144.3],['3',269],['4',341]].forEach(([n, x]: any) => items.push(T(n, x, 240, 7, { anchor: 'middle', rot: -45, fill: '#333' })));
  [['1',62],['2',143],['3',267],['4',339]].forEach(([n, x]: any) => items.push(T(n, x, 840, 7, { anchor: 'middle', rot: -45, fill: '#333' })));
  [['2',252.7],['1',261],['0',270],['-1',280],['-2',290]].forEach(([n, y]: any) => items.push(T(n, 388, y, 6.5, { fill: '#333' })));
  [['2',852.7],['1',861.7],['0',870.7],['-1',880.7],['-2',890.3]].forEach(([n, y]: any) => items.push(T(n, 385, y, 6.5, { fill: '#333' })));
  [['2',845],['1',867.7],['0',890],['-1',912.7],['-2',934]].forEach(([n, y]: any) => items.push(T(n, 640, y, 7.5, { fill: '#333' })));
  groupNames.forEach((g, i) => items.push(T(g, 668, 861 + i * 12.1, 7.5, { fill: '#222' })));
  return items;
}

function PageLayer() {
  const heads = arrowHeads.map(([x, y, rot, len, half]) => ({ x, y, rot, len, half }));
  const swatches = groupKeys.map((k, i) => ({ k, x: 659.7, y: 860.2 + i * 12.1 }));
  return (
    <div style={{ position: 'absolute', left: 0, top: 0 }}>
      <ScatterChart width={685} height={1097} margin={{ top: 0, right: 0, bottom: 0, left: 0 }}>
        <XAxis type="number" dataKey="x" domain={[0, 685]} hide />
        <YAxis type="number" dataKey="y" domain={[0, 1097]} reversed hide />
        {goBoxes.map((b, i) => (
          <ReferenceArea key={i} x1={b[0]} y1={b[1]} x2={b[2]} y2={b[3]} fill="#f2b8b8" fillOpacity={1} stroke="#808080" strokeWidth={2} ifOverflow="visible" />
        ))}
        {arrowShafts.map((s, i) => (
          <ReferenceLine key={i} segment={[{ x: s[0], y: s[1] }, { x: s[2], y: s[3] }]} stroke="#000" strokeWidth={4} ifOverflow="visible" />
        ))}
        <Scatter data={heads} isAnimationActive={false} shape={(p: any) => {
          const { rot, len, half } = p.payload;
          return <path d={`M0 0 L${-len} ${-half} L${-len * 0.68} 0 L${-len} ${half} Z`} fill="#000" transform={`translate(${p.cx} ${p.cy}) rotate(${rot})`} />;
        }} />
        <Scatter data={swatches} isAnimationActive={false} shape={(p: any) => (
          <rect x={p.cx - 5.7} y={p.cy - 6} width={11.4} height={12} fill={groupPalette[p.payload.k]} stroke="#fff" strokeWidth={0.4} />
        )} />
        <Scatter data={pageTexts()} isAnimationActive={false} shape={(p: any) => {
          const d = p.payload;
          return (
            <text x={p.cx} y={p.cy} dy={d.baseline ? 0 : '0.35em'} fontSize={d.fontSize} fontFamily={d.family || SANS} fontWeight={d.weight || 400}
              fill={d.fill || '#111'} textAnchor={d.anchor || 'start'}
              textLength={d.end ? d.end - d.x : undefined} lengthAdjust={d.end ? 'spacingAndGlyphs' : undefined}
              transform={d.rot ? `rotate(${d.rot} ${p.cx} ${p.cy})` : undefined}>{d.t}</text>
          );
        }} />
      </ScatterChart>
    </div>
  );
}

export default function App() {
  return (
    <div style={{ position: 'absolute', left: 0, top: 0, width: 685, height: 1097, overflow: 'hidden', background: '#fff', filter: 'blur(0.3px)' }}>
      <style>{'.softA .recharts-scatter{filter:blur(0.75px)} .softF .recharts-scatter{filter:blur(0.3px)}'}</style>
      {umapGenes.map((_, i) => <UmapPanel key={i} index={i} />)}
      <Heat left={635} top={5} width={4.3} height={46.7} rows={expressionStops.map((_, i) => String(i))} nCols={1} palette={Object.fromEntries(expressionStops.map((c, i) => [String(i), c]))} />

      <ClusterBar left={45.5} top={244} width={307} height={4.5} />
      <Dendro left={14} top={251} width={32} height={209} tree={treeB} leafHeight={45.5} heightDomain={[14, 46]} posDomain={[-0.5, 18.5]} />
      <Heat left={45.5} top={251} width={307} height={209} rows={heatB} nCols={120} palette={heatBPalette} labels={genesB} labelWidth={34} tickMargin={2} soft="softA" />
      <Heat left={383.3} top={249} width={3.4} height={43.7} rows={['8','7','6','5','4','3','2','1','0']} nCols={1} palette={barPalette} />

      <Venn />

      <ClusterBar left={44} top={845} width={306} height={4.4} />
      <Dendro left={12} top={851.7} width={33} height={218.3} tree={treeE} leafHeight={44} heightDomain={[12, 45]} posDomain={[-0.5, 24.5]} />
      <Heat left={44} top={851.7} width={306} height={218.3} rows={heatE} nCols={120} palette={heatEPalette} labels={genesE} labelWidth={34} vLines={[13, 63, 109]} tickMargin={2} soft="softA" />
      <Heat left={380} top={849} width={3.3} height={44} rows={['8','7','6','5','4','3','2','1','0']} nCols={1} palette={barPalette} />

      <Dendro left={454.3} top={813} width={139.7} height={33.5} tree={treeFTop} leafHeight={846} heightDomain={[813, 846.5]} posDomain={[-0.5, 63.5]} vertical stroke="#8a8a8a" />
      <Heat left={454.3} top={846} width={139.7} height={7.3} rows={groupRow} nCols={64} palette={groupPalette} />
      <Dendro left={424} top={855.7} width={31} height={240.3} tree={treeFLeft} leafHeight={454.5} heightDomain={[424, 455]} posDomain={[-0.5, 27.5]} />
      <Heat left={454.3} top={855.7} width={139.7} height={240.3} rows={heatF} nCols={64} palette={fPalette} cellStroke="#b4b4b4" labels={genesF} labelWidth={40} fontSize={7.6} labelColor="#222" tickMargin={2} soft="softF" />
      <Heat left={632} top={845} width={5.7} height={89} rows={fBarRows} nCols={1} palette={fBarPalette} />

      <PageLayer />
    </div>
  );
}
